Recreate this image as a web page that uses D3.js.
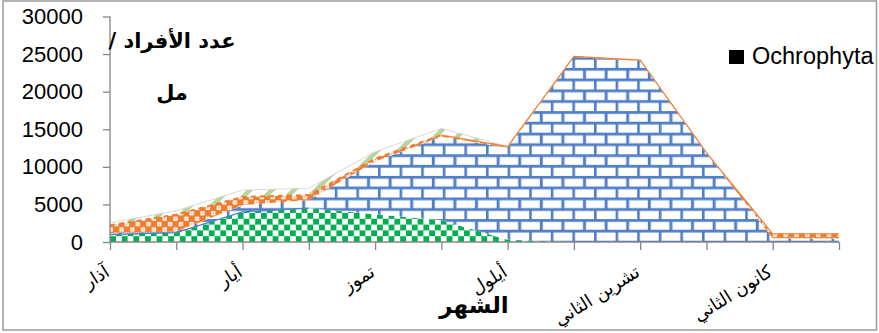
<!DOCTYPE html>
<html><head><meta charset="utf-8">
<script src="https://cdn.jsdelivr.net/npm/d3@7"></script>
<style>body{margin:0;background:#fff}</style>
</head><body><svg id="c" width="879" height="333"></svg>
<script>
// ---- data ----
const categories = ["آذار","نيسان","أيار","حزيران","تموز","آب","أيلول","تشرين الأول","تشرين الثاني","كانون الأول","كانون الثاني","شباط"];
const shownLabels = ["آذار","أيار","تموز","أيلول","تشرين الثاني","كانون الثاني"];
const seriesKeys = ["checker","brick","orange","diag"];
const checkerValues = [1000,1250,4000,4500,3700,2900,300,0,0,0,0,0];
const brickValues   = [200,150,900,1100,7000,11100,12250,24600,24100,11800,500,450];
const orangeValues  = [1050,2250,1100,650,400,230,150,100,100,100,600,650];
const diagValues    = [300,500,900,900,900,870,0,0,0,0,0,0];
const yTicks = [0,5000,10000,15000,20000,25000,30000];
const legendLabels = ["Ochrophyta"];
const yTitleLines = ["عدد الأفراد /","مل"];
const xTitle = "الشهر";

// ---- build ----
const rows = categories.map((c,i)=>({cat:c, checker:checkerValues[i], brick:brickValues[i], orange:orangeValues[i], diag:diagValues[i]}));
const svg = d3.select("#c");
svg.append("rect").attr("width",879).attr("height",333).attr("fill","#fff");

const defs = svg.append("defs");
// checker pattern
const cs = 5.8;
const pc = defs.append("pattern").attr("id","pChecker").attr("patternUnits","userSpaceOnUse").attr("width",2*cs).attr("height",2*cs).attr("y",242);
pc.append("rect").attr("width",2*cs).attr("height",2*cs).attr("fill","#fff");
pc.append("rect").attr("width",cs).attr("height",cs).attr("fill","#00B050");
pc.append("rect").attr("x",cs).attr("y",cs).attr("width",cs).attr("height",cs).attr("fill","#00B050");
// brick pattern
const bw = 21.6, bh = 10.8, m = 2.6, bc = "#4F7EC6";
const pb = defs.append("pattern").attr("id","pBrick").attr("patternUnits","userSpaceOnUse").attr("width",bw).attr("height",2*bh).attr("y",242-m/2);
pb.append("rect").attr("width",bw).attr("height",2*bh).attr("fill","#fff");
pb.append("rect").attr("x",m).attr("y",m).attr("width",bw-m).attr("height",bh-m).attr("fill","none").attr("stroke","#C9D8EE").attr("stroke-width",1.2);
pb.append("rect").attr("width",bw).attr("height",m).attr("fill",bc);
pb.append("rect").attr("y",bh).attr("width",bw).attr("height",m).attr("fill",bc);
pb.append("rect").attr("x",0).attr("y",0).attr("width",m).attr("height",bh).attr("fill",bc);
pb.append("rect").attr("x",bw/2).attr("y",bh).attr("width",m).attr("height",bh).attr("fill",bc);
// orange pattern
const po = defs.append("pattern").attr("id","pOrange").attr("patternUnits","userSpaceOnUse").attr("width",10.8).attr("height",10.8);
po.append("rect").attr("width",10.8).attr("height",10.8).attr("fill","#ED7D31");
[[0.6,0.6],[6,6]].forEach(([x,y])=>{
  po.append("rect").attr("x",x).attr("y",y).attr("width",4.2).attr("height",4.2).attr("fill","#fff");
  po.append("rect").attr("x",x+1.3).attr("y",y+1.3).attr("width",1.6).attr("height",1.6).attr("fill","#F4A46E");
});
// diagonal light green pattern
const pd = defs.append("pattern").attr("id","pDiag").attr("patternUnits","userSpaceOnUse").attr("width",22).attr("height",22);
pd.append("rect").attr("width",22).attr("height",22).attr("fill","#fff");
pd.append("path").attr("d","M-2,24 L24,-2").attr("stroke","#B7D59B").attr("stroke-width",4.5);
pd.append("path").attr("d","M-13,13 L13,-13 M9,35 L35,9").attr("stroke","#B7D59B").attr("stroke-width",4.5);

const fills = {checker:"url(#pChecker)", brick:"url(#pBrick)", orange:"url(#pOrange)", diag:"url(#pDiag)"};

const x = d3.scalePoint().domain(categories).range([110,839]);
const y = d3.scaleLinear().domain([0,30000]).range([242,16.5]);

const stack = d3.stack().keys(seriesKeys);
const layers = stack(rows);
const area = d3.area().x(d=>x(d.data.cat)).y0(d=>y(d[0])).y1(d=>y(d[1]));

svg.append("g").selectAll("path").data(layers).join("path")
  .attr("d",area).attr("fill",d=>fills[d.key]);

// edge lines
const topLine = d3.line().x(d=>x(d.data.cat)).y(d=>y(d[1]));
const diagLayer = layers[3], orangeLayer = layers[2], checkerLayer = layers[0];
svg.append("path").attr("d",topLine(diagLayer.slice(0,7))).attr("fill","none").attr("stroke","#cfcfcf").attr("stroke-width",0.8);
svg.append("path").attr("d",topLine(orangeLayer.slice(5))).attr("fill","none").attr("stroke","#ED7D31").attr("stroke-width",1.1);
svg.append("path").attr("d",topLine(orangeLayer.slice(0,6))).attr("fill","none").attr("stroke","#ED7D31").attr("stroke-width",1.8).attr("stroke-dasharray","5,4");
svg.append("path").attr("d",topLine(checkerLayer.slice(0,4))).attr("fill","none").attr("stroke",bc).attr("stroke-width",1.3);

// axes
const axisColor = "#868686";
const yAxis = svg.append("g").attr("transform","translate(110,0)")
  .call(d3.axisLeft(y).tickValues(yTicks).tickSize(7).tickPadding(20).tickFormat(d3.format("d")));
yAxis.select(".domain").attr("stroke",axisColor).attr("stroke-width",1.3).attr("d","M0,16.5V242");
yAxis.selectAll(".tick line").attr("stroke",axisColor).attr("stroke-width",1.3);
yAxis.selectAll(".tick text").attr("font-family","'Liberation Sans',Arial,sans-serif").attr("font-size",22).attr("fill","#000");

const xAxis = svg.append("g").attr("transform","translate(0,242)")
  .call(d3.axisBottom(x).tickSize(8).tickFormat(""));
xAxis.select(".domain").attr("stroke",axisColor).attr("stroke-width",1.3).attr("d","M110,0H839");
xAxis.selectAll(".tick line").attr("stroke",axisColor).attr("stroke-width",1.3);

// category labels
svg.append("g").selectAll("text").data(shownLabels).join("text")
  .attr("transform",d=>`translate(${x(d)-6},264) rotate(-32)`)
  .attr("text-anchor","end").attr("dy","0.72em")
  .attr("font-family","'DejaVu Sans',sans-serif").attr("font-size",18).attr("fill","#000")
  .text(d=>d);

// y title
svg.append("g").selectAll("text").data(yTitleLines).join("text")
  .attr("x",172).attr("y",(d,i)=>48+i*52)
  .attr("direction","rtl").attr("text-anchor","middle")
  .attr("font-family","'DejaVu Sans',sans-serif").attr("font-weight","bold").attr("font-size",21).attr("fill","#000")
  .text(d=>d);

// x title
svg.append("text").attr("x",474).attr("y",313).attr("text-anchor","middle")
  .attr("font-family","'DejaVu Sans',sans-serif").attr("font-weight","bold").attr("font-size",23).attr("fill","#000")
  .text(xTitle);

// legend
const lg = svg.append("g").attr("transform","translate(729,50)");
lg.selectAll("rect").data(legendLabels).join("rect").attr("width",15).attr("height",14).attr("fill","#000");
lg.selectAll("text").data(legendLabels).join("text").attr("x",23).attr("y",14)
  .attr("font-family","'Liberation Sans',Arial,sans-serif").attr("font-size",23.5).attr("fill","#000").text(d=>d);

// border
svg.append("rect").attr("x",3).attr("y",1).attr("width",873.5).attr("height",329).attr("fill","none").attr("stroke","#9a9a9a").attr("stroke-width",1.5);
</script></body></html>
